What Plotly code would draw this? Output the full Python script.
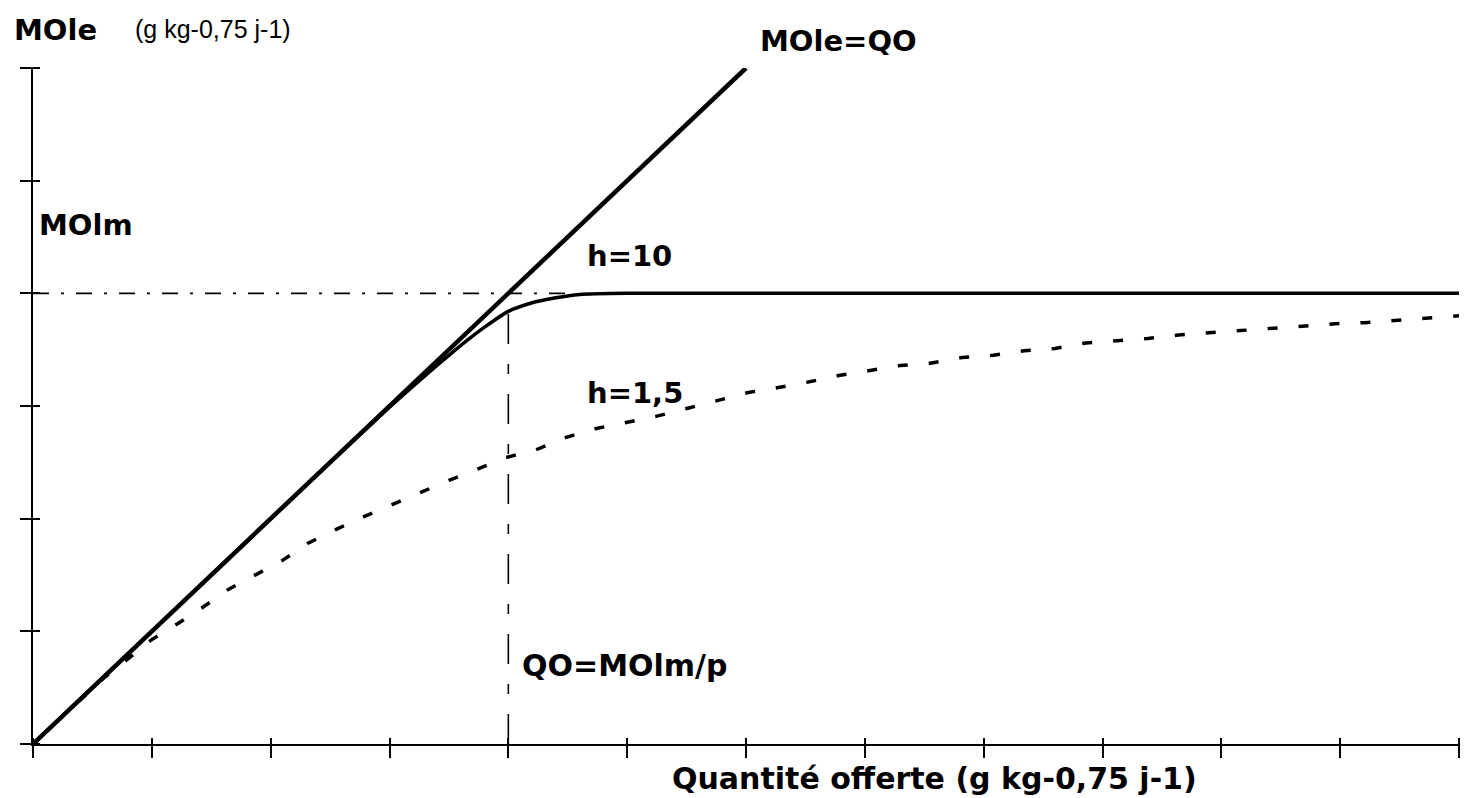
import plotly.graph_objects as go

# ---------------- data ----------------
x_ticks = [0, 1, 2, 3, 4, 5, 6, 7, 8, 9, 10, 11, 12]
y_ticks = [0, 1, 2, 3, 4, 5, 6]

# MOle = QO (1:1 line)
ident_x = [0.0, 6.0]
ident_y = [0.0, 6.0]

# h = 10 curve
h10_x = [0.0, 1.0, 2.0, 3.0, 3.3, 3.5, 3.65, 3.8, 4.0, 4.18, 4.4, 4.6, 5.0, 12.0]
h10_y = [0.0, 1.0, 2.0, 2.99, 3.27, 3.45, 3.58, 3.70, 3.84, 3.91, 3.96, 3.99, 4.0, 4.0]

# h = 1,5 curve
h15_x = [0.0, 0.3, 0.6, 0.77, 0.99, 1.22, 1.41, 1.64, 1.85, 2.10, 2.31, 2.56, 2.79,
         3.03, 3.27, 3.50, 3.74, 3.97, 4.23, 4.48, 4.74, 5.00, 5.25, 5.51, 5.77,
         6.02, 6.25, 6.51, 6.78, 7.03, 7.30, 7.55, 7.82, 8.08, 8.34, 8.60, 8.86,
         9.12, 9.38, 9.64, 9.90, 10.16, 10.42, 10.68, 10.96, 11.21, 11.46, 11.74, 12.0]
h15_y = [0.0, 0.3, 0.59, 0.73, 0.92, 1.07, 1.20, 1.37, 1.49, 1.63, 1.78, 1.91, 2.02,
         2.13, 2.24, 2.34, 2.44, 2.54, 2.61, 2.72, 2.80, 2.86, 2.91, 2.98, 3.05,
         3.12, 3.16, 3.21, 3.27, 3.31, 3.36, 3.38, 3.43, 3.45, 3.49, 3.51, 3.56,
         3.58, 3.60, 3.63, 3.65, 3.67, 3.69, 3.71, 3.73, 3.74, 3.76, 3.78, 3.80]

# reference levels
mol_m = 4.0          # MOlm
qo_m = 4.0           # QO = MOlm/p
mol_line_x = [0.0, 4.5]
qo_line_y = [0.0, 3.84]

# ---------------- figure ----------------
W, H = 1473, 798
ML, MR, MT, MB = 33, 14, 68, 54
PW, PH = W - ML - MR, H - MT - MB
TICK_IN, TICK_OUT = 7, 13

fig = go.Figure()

fig.add_trace(go.Scatter(x=mol_line_x, y=[mol_m, mol_m], mode="lines",
                         line=dict(color="black", width=1.6, dash="16px,12px,3px,12px"),
                         hoverinfo="skip"))
fig.add_trace(go.Scatter(x=[qo_m, qo_m], y=qo_line_y, mode="lines",
                         line=dict(color="black", width=1.6, dash="30px,20px,10px,20px"),
                         hoverinfo="skip"))
fig.add_trace(go.Scatter(x=h15_x, y=h15_y, mode="lines",
                         line=dict(color="black", width=3.5, dash="10px,21px"),
                         hoverinfo="skip"))
fig.add_trace(go.Scatter(x=h10_x, y=h10_y, mode="lines",
                         line=dict(color="black", width=3.5, shape="spline", smoothing=0.6),
                         hoverinfo="skip"))
# 1:1 line drawn on the second (coincident) subplot whose free axes carry the crossing ticks
fig.add_trace(go.Scatter(x=ident_x, y=ident_y, mode="lines", xaxis="x2", yaxis="y2",
                         line=dict(color="black", width=4.5),
                         hoverinfo="skip"))


def px(xp):
    return (xp - ML) / PW


def py(yp):
    return (H - MB - yp) / PH


FB = "DejaVu Sans"
texts = [
    ("MOle", 12, 30, 29, True, FB),
    ("(g kg-0,75 j-1)", 133, 29, 25, False, "Liberation Sans"),
    ("MOle=QO", 758, 41, 29, True, FB),
    ("MOlm", 37, 225, 29, True, FB),
    ("h=10", 585, 256, 29, True, FB),
    ("h=1,5", 585, 393, 29, True, FB),
    ("QO=MOlm/p", 520, 665, 30, True, FB),
    ("Quantité offerte (g kg-0,75 j-1)", 670, 778, 30, True, FB),
]
for t, x0, y0, fs, bold, fam in texts:
    fig.add_annotation(
        text=f"<b>{t}</b>" if bold else t,
        xref="paper", yref="paper", x=px(x0), y=py(y0),
        xanchor="left", yanchor="middle", showarrow=False,
        font=dict(family=fam, size=fs, color="black"),
    )

common = dict(showgrid=False, zeroline=False, showticklabels=False,
              tickcolor="black", tickwidth=2, fixedrange=True)

fig.update_layout(
    width=W, height=H,
    margin=dict(l=ML, r=MR, t=MT, b=MB, pad=0),
    paper_bgcolor="white", plot_bgcolor="rgba(0,0,0,0)",
    showlegend=False,
    xaxis=dict(range=[0, 12], ticks="", domain=[0, 1], anchor="y",
               showline=True, linewidth=2, linecolor="black", **common),
    yaxis=dict(range=[0, 6], ticks="", domain=[0, 1], anchor="x",
               showline=True, linewidth=2, linecolor="black", **common),
    xaxis2=dict(range=[0, 12], tickvals=x_ticks, ticks="outside",
                ticklen=TICK_IN + TICK_OUT, domain=[0, 1], anchor="free",
                position=TICK_IN / PH, side="bottom", showline=False, **common),
    yaxis2=dict(range=[0, 6], tickvals=y_ticks, ticks="outside",
                ticklen=TICK_IN + TICK_OUT, domain=[0, 1], anchor="free",
                position=TICK_IN / PW, side="left", showline=False, **common),
)

fig.write_html("out.html")
